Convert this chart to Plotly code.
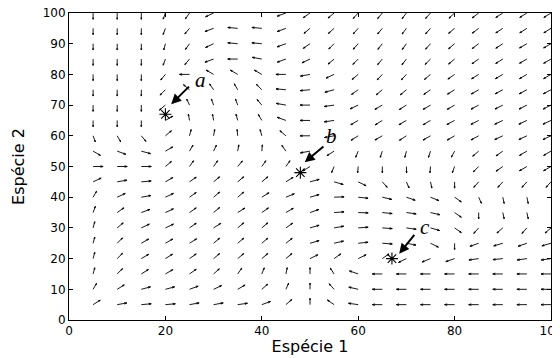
import numpy as np
import plotly.graph_objects as go

# ---------------- data ----------------
grid_x = list(range(5, 101, 5))          # Espécie 1 grid
grid_y = list(range(100, 4, -5))         # Espécie 2 grid (top row first)

# direction of each field segment (degrees on screen, 0 = right, 90 = up)
ang_y100 = [-90, -90, -90, -110, -125, -155, 90, 90, -160, -145, -140, -132, -130, -127, -132, -137, -143, -147, -148, -148]
ang_y95 = [-90, -90, -90, -110, -130, -160, 175, 175, -160, -140, -138, -132, -130, -127, -132, -140, -143, -147, -148, -148]
ang_y90 = [-90, -90, -90, -105, -125, -155, 175, 175, -160, -145, -135, -132, -128, -125, -132, -140, -143, -147, -150, -150]
ang_y85 = [-90, -90, -90, -110, -130, -160, 180, 170, -160, -155, -140, -135, -130, -128, -135, -140, -145, -148, -150, -150]
ang_y80 = [-90, -90, -90, -130, 180, 150, 150, 150, 180, -170, -155, -140, -133, -133, -140, -145, -148, -150, -150, -150]
ang_y75 = [-90, -90, -90, -135, 140, 125, 120, 135, 175, -175, -165, -145, -140, -140, -145, -148, -150, -152, -152, -152]
ang_y70 = [-90, -90, -90, -140, 115, 110, 110, 130, 170, 180, -172, -155, -150, -148, -150, -150, -152, -153, -153, -153]
ang_y65 = [-90, -90, -90, 30, 100, 100, 105, 120, 160, 180, -172, -150, -148, -150, -150, -152, -153, -155, -155, -155]
ang_y60 = [-70, -60, -50, 40, 75, 80, 95, 105, 140, 180, -170, -148, -150, -147, -150, -150, -152, -155, -155, -155]
ang_y55 = [-30, -20, -15, 30, 60, 65, 80, 85, 125, -170, -148, -112, -108, -104, -108, -118, -140, -145, -150, -150]
ang_y50 = [0, 0, 0, 40, 55, 55, 50, 55, 55, -148, -112, -95, -90, -88, -95, -110, -135, -145, -150, -150]
ang_y45 = [25, 10, 5, 30, 35, 40, 40, 40, 32, 15, -16, -26, -48, -66, -78, -90, -132, -132, -132, -132]
ang_y40 = [60, 25, 10, 25, 35, 40, 40, 32, 22, 16, 2, -6, -13, -19, -22, -35, -66, -78, -78, 0]
ang_y35 = [70, 35, 20, 25, 35, 40, 32, 35, 30, 19, 4, -2, -6, -8, -13, -35, -90, -78, -78, 0]
ang_y30 = [75, 40, 25, 25, 35, 32, 40, 40, 35, 16, 10, 4, -4, -8, -16, -35, -132, -139, -132, -139]
ang_y25 = [75, 45, 30, 30, 32, 40, 40, 40, 38, 16, 13, 6, -4, -11, -26, -90, -161, -164, -161, -164]
ang_y20 = [75, 45, 30, 32, 35, 40, 40, 40, 40, 26, 35, 26, 35, -154, -158, -161, -172, -174, -172, -172]
ang_y15 = [75, 45, 32, 30, 35, 42, 55, 68, 78, 90, 123, 161, 180, 180, 180, 180, 180, 180, 180, 180]
ang_y10 = [60, 32, 15, 15, 20, 25, 30, 41, 66, 90, 132, 167, 180, 180, 180, 180, 180, 180, 180, 180]
ang_y5 = [32, 10, 5, 5, 10, 10, 8, 20, 41, 90, 145, 172, 180, 180, 180, 180, 180, 180, 180, 180]

angle_rows = [ang_y100, ang_y95, ang_y90, ang_y85, ang_y80, ang_y75, ang_y70, ang_y65,
              ang_y60, ang_y55, ang_y50, ang_y45, ang_y40, ang_y35, ang_y30, ang_y25,
              ang_y20, ang_y15, ang_y10, ang_y5]

# equilibria
eq_x = [20, 48, 67]
eq_y = [67, 48, 20]
eq_names = ["a", "b", "c"]

x_ticks = [0, 20, 40, 60, 80, 100]
y_ticks = [0, 10, 20, 30, 40, 50, 60, 70, 80, 90, 100]

# ---------------- styling / geometry ----------------
W, H = 560, 358
PAGE_OFF = 8                      # browser body margin
ML, MR, MT, MB = 69 - PAGE_OFF, 9 + PAGE_OFF, 13 - PAGE_OFF, 38 + PAGE_OFF
PX_X = (W - ML - MR) / 100.0
PX_Y = (H - MT - MB) / 100.0
LEN_H, LEN_V = 10.0, 6.3        # segment length on screen (px) for horizontal / vertical
HEAD_BACK, HEAD_SIDE = 0.26, 0.08

xs, ys = [], []
for yv, row in zip(grid_y, angle_rows):
    for xv, a in zip(grid_x, row):
        t = np.radians(a)
        c, s = np.cos(t), np.sin(t)
        L = 1.0 / np.hypot(c / LEN_H, s / LEN_V)
        ux, uy = c * L, s * L
        tx, ty = xv + ux / PX_X, yv + uy / PX_Y
        xs += [xv, tx, None]
        ys += [yv, ty, None]
        b1x = -HEAD_BACK * ux - HEAD_SIDE * uy
        b1y = -HEAD_BACK * uy + HEAD_SIDE * ux
        b2x = -HEAD_BACK * ux + HEAD_SIDE * uy
        b2y = -HEAD_BACK * uy - HEAD_SIDE * ux
        xs += [tx + b1x / PX_X, tx, tx + b2x / PX_X, None]
        ys += [ty + b1y / PX_Y, ty, ty + b2y / PX_Y, None]

fig = go.Figure()
fig.add_trace(go.Scatter(x=xs, y=ys, mode="lines",
                         line=dict(color="black", width=0.9),
                         hoverinfo="skip", showlegend=False))
fig.add_trace(go.Scatter(x=eq_x, y=eq_y, mode="markers",
                         marker=dict(symbol="asterisk-open", size=10, color="black",
                                     line=dict(width=1.1, color="black")),
                         hoverinfo="skip", showlegend=False))

# annotation arrows (offsets relative to the equilibrium)
tip_dx = [1.2, 0.9, 1.5]
tip_dy = [3.3, 3.4, 1.6]
tail_dx = [5.2, 5.1, 4.9]
tail_dy = [9.5, 8.9, 8.2]
lab_dx = [7.2, 6.4, 6.9]
lab_dy = [11.2, 12.0, 10.3]

for i, name in enumerate(eq_names):
    fig.add_annotation(x=eq_x[i] + tip_dx[i], y=eq_y[i] + tip_dy[i],
                       ax=eq_x[i] + tail_dx[i], ay=eq_y[i] + tail_dy[i],
                       xref="x", yref="y", axref="x", ayref="y",
                       text="", showarrow=True, arrowhead=2, arrowsize=1,
                       arrowwidth=2, arrowcolor="black", standoff=0, startstandoff=0)
    fig.add_annotation(x=eq_x[i] + lab_dx[i], y=eq_y[i] + lab_dy[i],
                       xref="x", yref="y", text="<i>" + name + "</i>", showarrow=False,
                       font=dict(family="Liberation Serif", size=21, color="black"))

axis_common = dict(showgrid=False, zeroline=False, showline=True, linecolor="black",
                   linewidth=1, mirror="ticks", ticks="inside", ticklen=4,
                   tickcolor="black", tickwidth=1, ticklabeloverflow="allow",
                   tickfont=dict(family="DejaVu Sans", size=12, color="black"))

fig.update_xaxes(range=[0, 100], tickvals=x_ticks, ticktext=[str(v) for v in x_ticks],
                 title=dict(text="Espécie 1", font=dict(family="DejaVu Sans", size=16, color="black"),
                            standoff=3), **axis_common)
fig.update_yaxes(range=[0, 100], tickvals=y_ticks, ticktext=[str(v) for v in y_ticks],
                 title=dict(text="Espécie 2", font=dict(family="DejaVu Sans", size=16, color="black"),
                            standoff=14), **axis_common)

fig.update_layout(width=W, height=H, margin=dict(l=ML, r=MR, t=MT, b=MB, autoexpand=False),
                  plot_bgcolor="white", paper_bgcolor="white", showlegend=False)

fig.write_html("out.html")
